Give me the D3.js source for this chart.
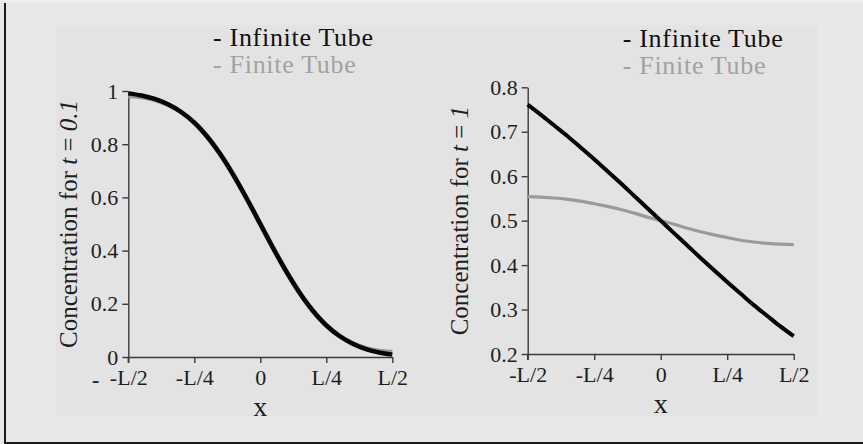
<!DOCTYPE html>
<html>
<head>
<meta charset="utf-8">
<script src="https://cdn.jsdelivr.net/npm/d3@7"></script>
<style>
  html, body { margin: 0; padding: 0; background: #e8e8e8; }
  svg { display: block; }
  text { font-family: "Liberation Serif", "Times New Roman", serif; }
</style>
</head>
<body>
<svg id="chart" width="863" height="444"></svg>
<script>
// ---- data ----
const xPositions = [-0.5, -0.45, -0.4, -0.35, -0.3, -0.25, -0.2, -0.15, -0.1, -0.05, 0,
                    0.05, 0.1, 0.15, 0.2, 0.25, 0.3, 0.35, 0.4, 0.45, 0.5];
const infiniteT01 = [0.991, 0.983, 0.970, 0.950, 0.921, 0.881, 0.827, 0.760, 0.681, 0.593, 0.500,
                     0.407, 0.319, 0.240, 0.173, 0.119, 0.079, 0.050, 0.030, 0.017, 0.009];
const finiteT01   = [0.982, 0.978, 0.968, 0.949, 0.921, 0.881, 0.827, 0.760, 0.681, 0.593, 0.500,
                     0.407, 0.319, 0.240, 0.173, 0.119, 0.079, 0.051, 0.032, 0.022, 0.018];
const infiniteT1  = [0.761, 0.738, 0.714, 0.690, 0.664, 0.638, 0.611, 0.584, 0.556, 0.528, 0.500,
                     0.472, 0.444, 0.416, 0.389, 0.362, 0.336, 0.310, 0.286, 0.262, 0.240];
const finiteT1    = [0.554, 0.553, 0.551, 0.548, 0.544, 0.538, 0.532, 0.525, 0.517, 0.508, 0.500,
                     0.492, 0.483, 0.475, 0.468, 0.462, 0.456, 0.452, 0.449, 0.447, 0.446];
const xTickValues = [-0.5, -0.25, 0, 0.25, 0.5];
const xTickLabels = ["-L/2", "-L/4", "0", "L/4", "L/2"];
const yTicksLeft  = [0, 0.2, 0.4, 0.6, 0.8, 1];
const yTicksRight = [0.2, 0.3, 0.4, 0.5, 0.6, 0.7, 0.8];
const legendLabels = ["- Infinite Tube", "- Finite Tube"];

// ---- drawing ----
const svg = d3.select("#chart");
svg.append("rect").attr("x", 0).attr("y", 0).attr("width", 863).attr("height", 444).attr("fill", "#e8e8e8");
svg.append("rect").attr("x", 0).attr("y", 0).attr("width", 863).attr("height", 3).attr("fill", "#efefef");
svg.append("rect").attr("x", 56).attr("y", 25).attr("width", 761).attr("height", 391).attr("fill", "#e3e3e3");
// frame
svg.append("line").attr("x1", 5).attr("x2", 5).attr("y1", 3).attr("y2", 444)
   .attr("stroke", "#1a1a1a").attr("stroke-width", 2);
svg.append("line").attr("x1", 4).attr("x2", 863).attr("y1", 443).attr("y2", 443)
   .attr("stroke", "#1a1a1a").attr("stroke-width", 2);

function panel(cfg) {
  const x = d3.scaleLinear().domain([-0.5, 0.5]).range(cfg.xr);
  const y = d3.scaleLinear().domain(cfg.yd).range(cfg.yr);
  const g = svg.append("g");

  const ax = g.append("g").attr("transform", `translate(0,${cfg.yr[0]})`)
    .call(d3.axisBottom(x).tickValues(xTickValues)
      .tickFormat((d, i) => xTickLabels[i]).tickSize(6).tickSizeOuter(0).tickPadding(6));
  const ay = g.append("g").attr("transform", `translate(${cfg.xr[0]},0)`)
    .call(d3.axisLeft(y).tickValues(cfg.yTicks)
      .tickFormat(d3.format("")).tickSize(6).tickSizeOuter(0).tickPadding(4));
  [ax, ay].forEach(a => {
    a.attr("font-size", null).attr("font-family", null);
    a.select(".domain").attr("stroke", "#3a3a3a").attr("stroke-width", 1.4);
    a.selectAll(".tick line").attr("stroke", "#3a3a3a").attr("stroke-width", 1.4);
    a.selectAll(".tick text").attr("fill", "#1e1e1e")
      .style("font-family", '"Liberation Serif", "Times New Roman", serif').style("font-size", "22px");
  });
  // extend y axis down through x-axis tick
  g.append("line").attr("x1", cfg.xr[0]).attr("x2", cfg.xr[0])
    .attr("y1", cfg.yr[0]).attr("y2", cfg.yr[0] + 6).attr("stroke", "#3a3a3a").attr("stroke-width", 1.4);

  const line = d3.line().x((d, i) => x(xPositions[i])).y(d => y(d)).curve(d3.curveCatmullRom.alpha(0.5));
  g.append("path").datum(cfg.finite).attr("d", line).attr("fill", "none")
    .attr("stroke", "#9a9a9a").attr("stroke-width", cfg.grayW);
  g.append("path").datum(cfg.infinite).attr("d", line).attr("fill", "none")
    .attr("stroke", "#050505").attr("stroke-width", cfg.blackW);

  // legend
  g.append("text").attr("x", cfg.legX).attr("y", cfg.legY).attr("fill", "#111")
    .style("font-size", "26px").style("letter-spacing", "0.7px").text(legendLabels[0]);
  g.append("text").attr("x", cfg.legX).attr("y", cfg.legY + 27).attr("fill", "#a2a2a2")
    .style("font-size", "26px").style("letter-spacing", "0.7px").text(legendLabels[1]);

  // y title
  const t = g.append("text")
    .attr("transform", `translate(${cfg.titleX},${(cfg.yr[0] + cfg.yr[1]) / 2}) rotate(-90)`)
    .attr("text-anchor", "middle").attr("fill", "#1e1e1e").style("font-size", "25px");
  t.append("tspan").text("Concentration for ");
  t.append("tspan").style("font-style", "italic").text("t");
  t.append("tspan").text(" = ");
  t.append("tspan").style("font-style", "italic").text(cfg.tLabel);

  // x title
  g.append("text").attr("x", (cfg.xr[0] + cfg.xr[1]) / 2).attr("y", cfg.yr[0] + 59)
    .attr("text-anchor", "middle").attr("fill", "#1e1e1e").style("font-size", "28px").text("x");
}

panel({ xr: [128.3, 392.3], yd: [0, 1], yr: [357, 91], yTicks: yTicksLeft,
        infinite: infiniteT01, finite: finiteT01, grayW: 5, blackW: 4.5,
        legX: 213, legY: 46, titleX: 77, tLabel: "0.1" });
panel({ xr: [527.7, 793.7], yd: [0.2, 0.8], yr: [354, 87.3], yTicks: yTicksRight,
        infinite: infiniteT1, finite: finiteT1, grayW: 3.2, blackW: 4,
        legX: 622.7, legY: 47, titleX: 468, tLabel: "1" });

// stray dash at lower left
svg.append("text").attr("x", 92).attr("y", 387).attr("fill", "#222")
  .style("font-size", "22px").style("font-weight", "bold").text("-");
</script>
</body>
</html>
